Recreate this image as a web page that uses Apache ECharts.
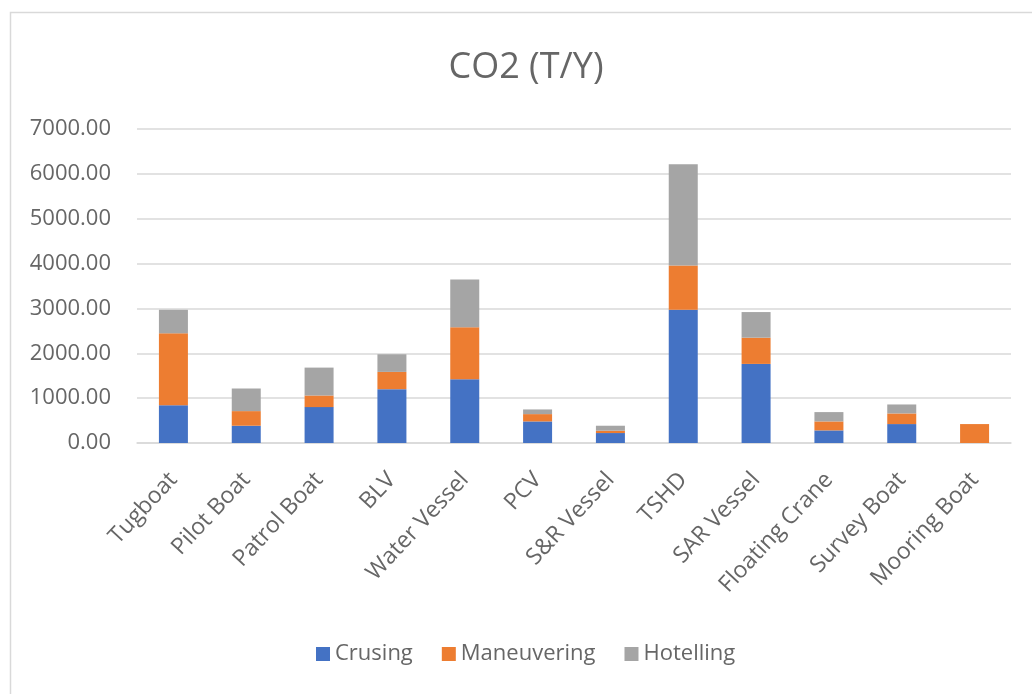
<!DOCTYPE html>
<html>
<head>
<meta charset="utf-8">
<script src="https://cdn.jsdelivr.net/npm/echarts@6/dist/echarts.min.js"></script>
<style>
html,body{margin:0;padding:0;background:#fff;}
#chart{width:1032px;height:694px;}
</style>
</head>
<body>
<div id="chart"></div>
<script>
const categories = ['Tugboat','Pilot Boat','Patrol Boat','BLV','Water Vessel','PCV','S&R Vessel','TSHD','SAR Vessel','Floating Crane','Survey Boat','Mooring Boat'];
const crusing     = [840, 385, 800, 1200, 1422, 481, 222, 2970, 1763, 281, 422, 0];
const maneuvering = [1605, 326, 259, 385, 1156, 163, 52, 986, 585, 200, 237, 422];
const hotelling   = [525, 504, 622, 393, 1066, 104, 111, 2259, 571, 208, 200, 0];
const yTicks = [0, 1000, 2000, 3000, 4000, 5000, 6000, 7000];

const FONT = '"Open Sans", sans-serif';
const TXT = '#666666';
const chart = echarts.init(document.getElementById('chart'));
chart.setOption({
  animation: false,
  textStyle: { fontFamily: FONT },
  graphic: [{
    type: 'rect', left: 8, top: 10, z: -1,
    shape: { width: 1060, height: 720 },
    style: { fill: 'none', stroke: '#d9d9d9', lineWidth: 1.5 }
  }],
  title: {
    text: 'CO2 (T/Y)', left: 521, top: 45, textAlign: 'center',
    textStyle: { fontFamily: FONT, fontSize: 36, fontWeight: 'normal', color: TXT }
  },
  legend: {
    bottom: 24, left: 311,
    itemWidth: 14, itemHeight: 14, itemGap: 29,
    icon: 'rect',
    textStyle: { fontFamily: FONT, fontSize: 22, color: TXT },
    data: ['Crusing', 'Maneuvering', 'Hotelling']
  },
  grid: { left: 137, right: 21, top: 129, bottom: 251, containLabel: false },
  xAxis: {
    type: 'category', data: categories,
    axisLine: { lineStyle: { color: '#d9d9d9', width: 1.5 } },
    axisTick: { show: false },
    axisLabel: { rotate: 47, interval: 0, margin: 33, fontFamily: FONT, fontSize: 23, color: TXT }
  },
  yAxis: {
    type: 'value', min: yTicks[0], max: yTicks[yTicks.length - 1], interval: 1000,
    axisLine: { show: false }, axisTick: { show: false },
    splitLine: { lineStyle: { color: '#d9d9d9', width: 1.5 } },
    axisLabel: { margin: 26, fontFamily: FONT, fontSize: 22, color: TXT,
      formatter: v => v.toFixed(2) }
  },
  series: [
    { name: 'Crusing', type: 'bar', stack: 's', barWidth: 29, data: crusing, itemStyle: { color: '#4472C4' } },
    { name: 'Maneuvering', type: 'bar', stack: 's', barWidth: 29, data: maneuvering, itemStyle: { color: '#ED7D31' } },
    { name: 'Hotelling', type: 'bar', stack: 's', barWidth: 29, data: hotelling, itemStyle: { color: '#A5A5A5' } }
  ]
});
</script>
</body>
</html>
